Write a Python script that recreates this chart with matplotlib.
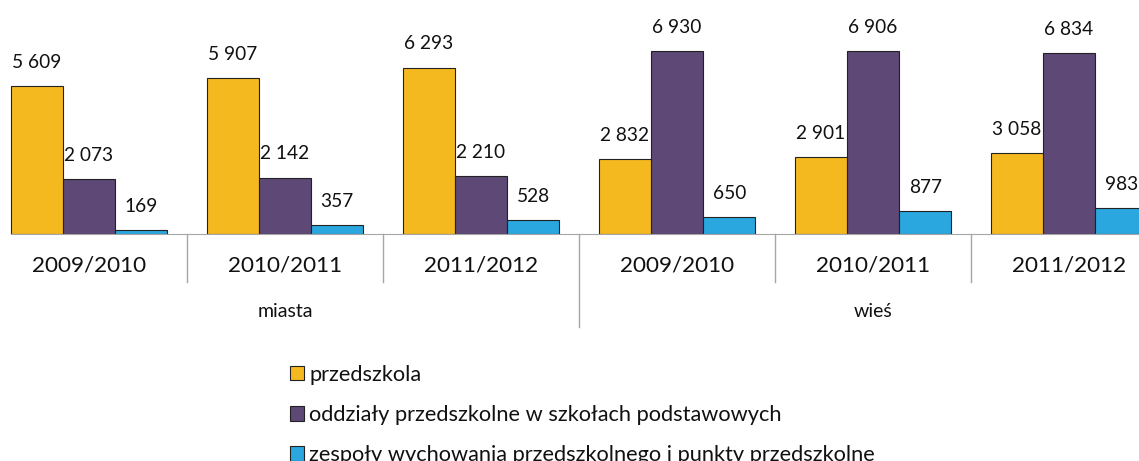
import matplotlib
matplotlib.use('Agg')
import matplotlib.pyplot as plt
from matplotlib.patches import Patch
import numpy as np

# Dane
lata = ['2009/2010', '2010/2011', '2011/2012', '2009/2010', '2010/2011', '2011/2012']
grupy = ['miasta', 'wieś']
przedszkola = [5609, 5907, 6293, 2832, 2901, 3058]
oddzialy = [2073, 2142, 2210, 6930, 6906, 6834]
zespoly = [169, 357, 528, 650, 877, 983]
serie = ['przedszkola', 'oddziały przedszkolne w szkołach podstawowych',
         'zespoły wychowania przedszkolnego i punkty przedszkolne']
kolory = ['#F5B920', '#5D4876', '#29A7DE']

plt.rcParams['font.family'] = ['Lato', 'DejaVu Sans']
kolor_tekstu = '#111111'
szary = '#a6a6a6'

fig = plt.figure(figsize=(11.39, 4.61), dpi=100)
ax = fig.add_axes([0, 0.4918, 1, 0.5082])

x = np.arange(len(lata))
w = 0.267
for k, (wartosci, kolor) in enumerate(zip([przedszkola, oddzialy, zespoly], kolory)):
    pos = x + (k - 1) * w
    ax.bar(pos, wartosci, w, color=kolor, edgecolor='#222222', linewidth=0.8)
    for px, v in zip(pos, wartosci):
        ax.annotate(f'{v:,}'.replace(',', ' '), (px, v), xytext=(0, 17), textcoords='offset points',
                    ha='center', va='center', fontsize=13.8, color=kolor_tekstu)

ax.set_xlim(-89 / 196, (1139 - 89) / 196)
ax.set_ylim(0, 234.3 / 0.0265)

for s in ['top', 'left', 'right']:
    ax.spines[s].set_visible(False)
ax.spines['bottom'].set_color(szary)
ax.spines['bottom'].set_bounds(x[0] - 1.5 * w, ax.get_xlim()[1])
ax.set_xticks([])
ax.set_yticks([])

tr = ax.get_xaxis_transform()
for i in range(len(lata) - 1):
    dol = -0.394 if i == 2 else -0.2023
    ax.plot([i + 0.5, i + 0.5], [0, dol], color=szary, lw=1, transform=tr, clip_on=False)

for i, etykieta in enumerate(lata):
    ax.text(i, -0.133, etykieta, transform=tr, ha='center', va='center', fontsize=16.2, color=kolor_tekstu)
for etykieta, srodek in zip(grupy, [1, 4]):
    ax.text(srodek, -0.3316, etykieta, transform=tr, ha='center', va='center', fontsize=14, color=kolor_tekstu)

# legenda - ostatni wiersz jest przycięty dolną krawędzią, tak jak w oryginale
uchwyty = [Patch(facecolor=c, edgecolor='#222222', linewidth=0.8) for c in kolory]
fig.legend(uchwyty, serie, loc='upper left', bbox_to_anchor=(279 / 1139, 1 - 354 / 461),
           frameon=False, fontsize=15.7, handlelength=0.64, handleheight=0.64,
           handletextpad=0.25, labelspacing=0.92, borderpad=0, labelcolor=kolor_tekstu)

fig.savefig('out.png', dpi=100)
